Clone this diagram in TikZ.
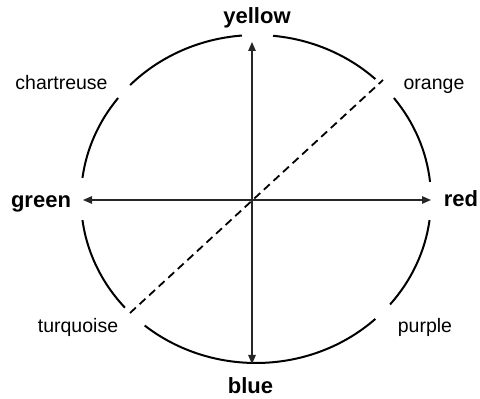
\documentclass[tikz,border=0pt]{standalone}
\usepackage{fontspec}
\setmainfont{Liberation Sans}
\usetikzlibrary{arrows.meta}
\begin{document}
\begin{tikzpicture}[x=1pt,y=1pt,
  lbl/.style={anchor=base,inner sep=0pt,font=\fontsize{19.5}{20}\selectfont},
  blbl/.style={anchor=base,inner sep=0pt,font=\fontsize{22}{24}\selectfont\bfseries},
  rim/.style={line width=2pt},
  axis/.style={line width=1.3pt,black!85,{Triangle[length=9pt,width=7.5pt]}-{Triangle[length=9pt,width=7.5pt]}},
  diag/.style={line width=1.8pt,dash pattern=on 8pt off 5pt},
]
\useasboundingbox (0,0) rectangle (480,399);
\coordinate (C) at (256,200);
\foreach \a/\b in {6/38,47/84.4,94.6/136,142/172.6,187.4/221.5,230.5/313,320/352.6}{
  \draw[rim] (C) ++(\a:175pt and 164pt) arc[start angle=\a,end angle=\b,x radius=175pt,y radius=164pt];
}
\coordinate (top) at (252,357);
\coordinate (bot) at (252,35);
\coordinate (lft) at (83,199);
\coordinate (rgt) at (431,199);
\coordinate (d1) at (130,86);
\coordinate (d2) at (383,319);
\draw[axis] (bot) -- (top);
\draw[axis] (lft) -- (rgt);
\draw[diag] (d1) -- (d2);
\node[blbl] (yellow) at (257,375) {yellow};
\node[blbl] (blue) at (250.5,5) {blue};
\node[blbl] (green) at (41,191) {green};
\node[blbl] (red) at (461,192) {red};
\node[lbl] (chartreuse) at (61.5,309) {chartreuse};
\node[lbl] (orange) at (434,309) {orange};
\node[lbl] (turquoise) at (78,66) {turquoise};
\node[lbl] (purple) at (425,66) {purple};
\end{tikzpicture}
\end{document}
